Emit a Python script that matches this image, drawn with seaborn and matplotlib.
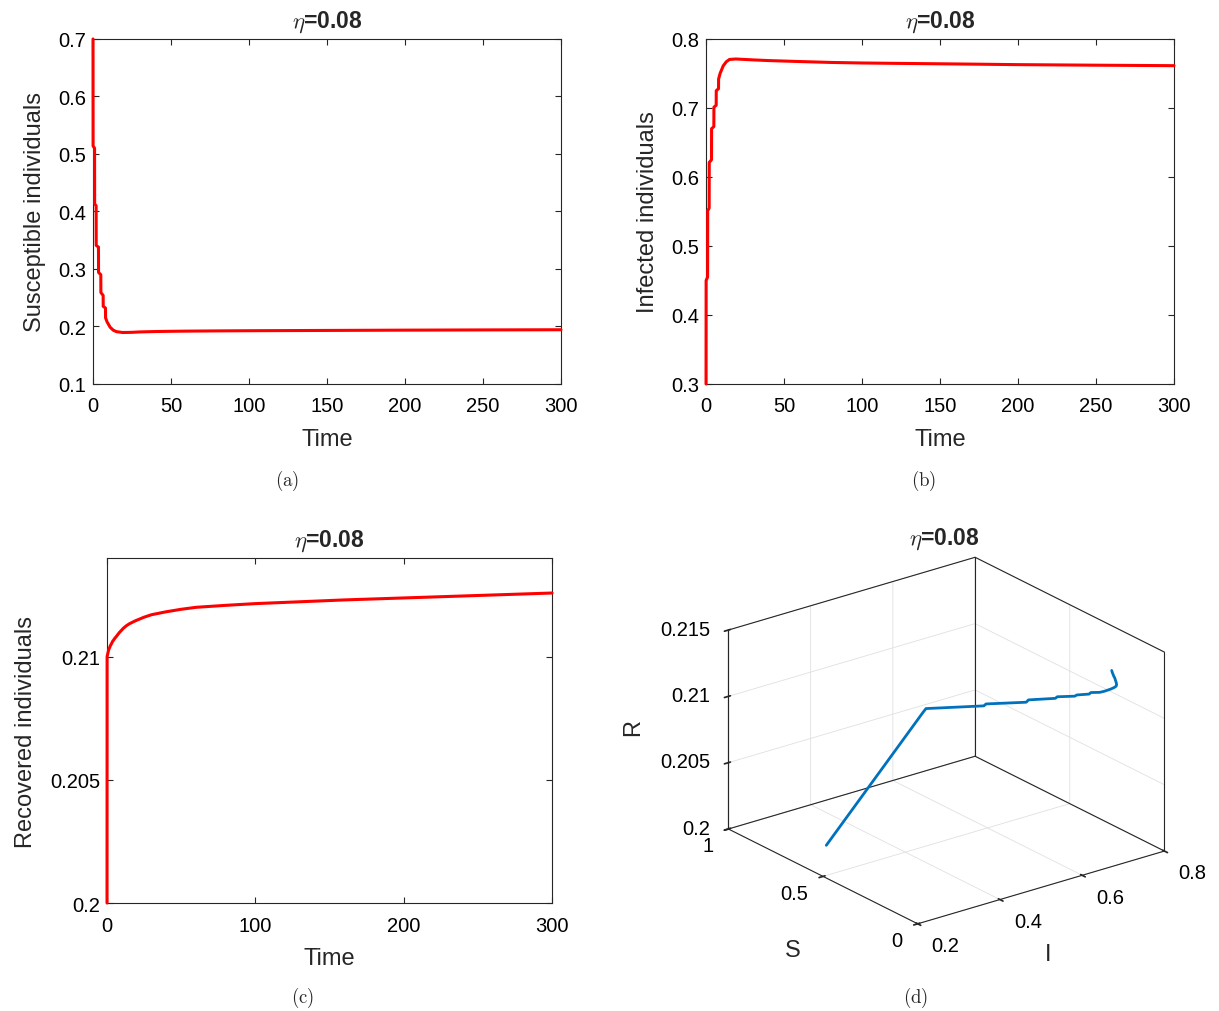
import matplotlib
matplotlib.use("Agg")
import matplotlib.pyplot as plt
import seaborn as sns
import pandas as pd
from matplotlib.ticker import FuncFormatter

# SIR trajectory for eta = 0.08
time = [0, 0.05, 1, 1.05, 2, 2.05, 3.5, 3.55, 5, 5.05, 6.5, 6.55, 8, 8.05, 9, 11, 13, 15, 19,
        25, 30, 40, 50, 60, 80, 100, 120, 160, 200, 250, 300]
S_vals = [0.70, 0.514, 0.51, 0.413, 0.41, 0.341, 0.338, 0.294, 0.29, 0.259, 0.254, 0.235, 0.232,
          0.215, 0.208, 0.1986, 0.1935, 0.191, 0.1895, 0.1898, 0.1905, 0.1912, 0.1916, 0.1919,
          0.1923, 0.1926, 0.1928, 0.1932, 0.1936, 0.194, 0.1943]
I_vals = [0.30, 0.45, 0.455, 0.551, 0.555, 0.621, 0.625, 0.670, 0.673, 0.701, 0.704, 0.725, 0.728,
          0.742, 0.750, 0.761, 0.767, 0.7703, 0.771, 0.7703, 0.7697, 0.7687, 0.768, 0.7673,
          0.766, 0.7652, 0.7647, 0.7638, 0.7628, 0.762, 0.7613]
R_vals = [0.200, 0.2100, 0.21025, 0.21027, 0.2104, 0.21042, 0.21058, 0.2106, 0.21072, 0.21073,
          0.21083, 0.21084, 0.21095, 0.21096, 0.21102, 0.21115, 0.21125, 0.21133, 0.21145,
          0.2116, 0.2117, 0.21182, 0.21192, 0.212, 0.21208, 0.21215, 0.2122, 0.2123, 0.21238,
          0.21248, 0.21258]
eta = 0.08

df = pd.DataFrame({"Time": time, "S": S_vals, "I": I_vals, "R": R_vals})

sns.set_theme(style="ticks")
plt.rcParams["font.family"] = ["Liberation Sans", "DejaVu Sans"]
plt.rcParams["mathtext.fontset"] = "cm"
plt.rcParams["axes.edgecolor"] = "#262626"
plt.rcParams["axes.linewidth"] = 0.8
plt.rcParams["xtick.color"] = "#262626"
plt.rcParams["ytick.color"] = "#262626"
plt.rcParams["xtick.labelcolor"] = "black"
plt.rcParams["ytick.labelcolor"] = "black"

RED = "#FF0000"
BLUE = "#0072BD"
EDGE = "#262626"
TICK_FS, LABEL_FS, TITLE_FS = 14.5, 17, 16.5
title = r"$\eta$=" + f"{eta:g}"
fmt = FuncFormatter(lambda v, p: f"{v:g}")

fig = plt.figure(figsize=(12.19, 10.12), dpi=100)


def style_2d(ax, ylabel, xticks, yticks, ylim):
    ax.set_xlim(0, 300)
    ax.set_ylim(*ylim)
    ax.set_xticks(xticks)
    ax.set_yticks(yticks)
    ax.xaxis.set_major_formatter(fmt)
    ax.yaxis.set_major_formatter(fmt)
    ax.tick_params(direction="in", top=True, right=True, length=4.5, width=0.8,
                   labelsize=TICK_FS)
    ax.tick_params(axis="x", pad=9)
    ax.tick_params(axis="y", pad=5)
    ax.set_xlabel("Time", fontsize=LABEL_FS, labelpad=9)
    ax.set_ylabel(ylabel, fontsize=LABEL_FS, labelpad=9)
    ax.set_title(title, fontsize=TITLE_FS, fontweight="bold", pad=9)
    for sp in ax.spines.values():
        sp.set_visible(True)


line_kw = dict(color=RED, lw=2.2, estimator=None, sort=False, clip_on=False, zorder=3)

ax_a = fig.add_axes([0.0763, 0.6196, 0.3839, 0.3409])
sns.lineplot(data=df, x="Time", y="S", ax=ax_a, **line_kw)
style_2d(ax_a, "Susceptible individuals", range(0, 301, 50),
         [0.1, 0.2, 0.3, 0.4, 0.5, 0.6, 0.7], (0.1, 0.7))

ax_b = fig.add_axes([0.5792, 0.6196, 0.3839, 0.3409])
sns.lineplot(data=df, x="Time", y="I", ax=ax_b, **line_kw)
style_2d(ax_b, "Infected individuals", range(0, 301, 50),
         [0.3, 0.4, 0.5, 0.6, 0.7, 0.8], (0.3, 0.8))

ax_c = fig.add_axes([0.0878, 0.1067, 0.3651, 0.3409])
sns.lineplot(data=df, x="Time", y="R", ax=ax_c, **line_kw)
style_2d(ax_c, "Recovered individuals", [0, 100, 200, 300],
         [0.2, 0.205, 0.21], (0.2, 0.214))

# 3-D phase trajectory (x = I, y = S, z = R)
ax_d = fig.add_axes([0.5701, 0.026, 0.402, 0.4698], projection="3d")
ax_d.plot(I_vals, S_vals, R_vals, color=BLUE, lw=2)
ax_d.set_proj_type("ortho")
ax_d.view_init(elev=22.6, azim=-127.5)
ax_d.set_box_aspect((1, 1, 0.693))
ax_d.set_xlim(0.2, 0.8)
ax_d.set_ylim(0, 1)
ax_d.set_zlim(0.2, 0.215)
ax_d.set_xticks([0.2, 0.4, 0.6, 0.8])
ax_d.set_yticks([0, 0.5, 1])
ax_d.set_zticks([0.2, 0.205, 0.21, 0.215])
for axis in (ax_d.xaxis, ax_d.yaxis, ax_d.zaxis):
    axis.set_major_formatter(fmt)
    axis.set_pane_color((1, 1, 1, 1))
    axis.pane.set_edgecolor((1, 1, 1, 1))
    axis.line.set_color(EDGE)
    axis.line.set_linewidth(0.8)
    axis._axinfo["grid"]["color"] = (0.88, 0.88, 0.88, 1)
    axis._axinfo["grid"]["linewidth"] = 0.6
    axis._axinfo["tick"]["color"] = EDGE

# box edges of the three back panes, drawn over the grid like MATLAB's "box on"
x0, x1 = ax_d.get_xlim()
y0, y1 = ax_d.get_ylim()
z0, z1 = ax_d.get_zlim()
edges = [
    ((x0, x1), (y1, y1), (z0, z0)), ((x1, x1), (y0, y1), (z0, z0)),
    ((x0, x0), (y1, y1), (z0, z1)), ((x1, x1), (y1, y1), (z0, z1)),
    ((x1, x1), (y0, y0), (z0, z1)),
    ((x0, x1), (y1, y1), (z1, z1)), ((x1, x1), (y0, y1), (z1, z1)),
]
for ex, ey, ez in edges:
    ax_d.plot(ex, ey, ez, color=EDGE, lw=0.8, zorder=0)

# MATLAB-like tick label placement
ax_d.xaxis._axmask = lambda: [False, True, True]
ax_d.yaxis._axmask = lambda: [True, False, True]
ax_d.zaxis._axmask = lambda: [True, True, False]
ax_d.tick_params(labelsize=TICK_FS)
ax_d.xaxis.set_tick_params(pad=5.2)
ax_d.yaxis.set_tick_params(pad=3.0)
ax_d.zaxis.set_tick_params(pad=-0.6)
for axis, ha in ((ax_d.xaxis, "left"), (ax_d.yaxis, "right"), (ax_d.zaxis, "right")):
    for lab in axis.get_ticklabels():
        lab.set_horizontalalignment(ha)
        lab.set_verticalalignment("center")

# axis labels and title of the 3-D panel
fig.text(793 / 1219, 1 - 951 / 1012, "S", fontsize=LABEL_FS, ha="center", va="center")
fig.text(1048 / 1219, 1 - 955 / 1012, "I", fontsize=LABEL_FS, ha="center", va="center")
fig.text(633 / 1219, 1 - 728 / 1012, "R", fontsize=LABEL_FS, ha="center", va="center",
         rotation=90)
fig.text(944 / 1219, 1 - 539 / 1012, title, fontsize=TITLE_FS, fontweight="bold",
         ha="center", va="center")

# sub-figure captions
for lbl, x, y in [("a", 287, 481), ("b", 924, 481), ("c", 302, 998), ("d", 916, 998)]:
    fig.text(x / 1219, 1 - y / 1012, r"$\mathrm{(" + lbl + r")}$", fontsize=13.5,
             ha="center", va="center")

fig.savefig("out.png", dpi=100)
